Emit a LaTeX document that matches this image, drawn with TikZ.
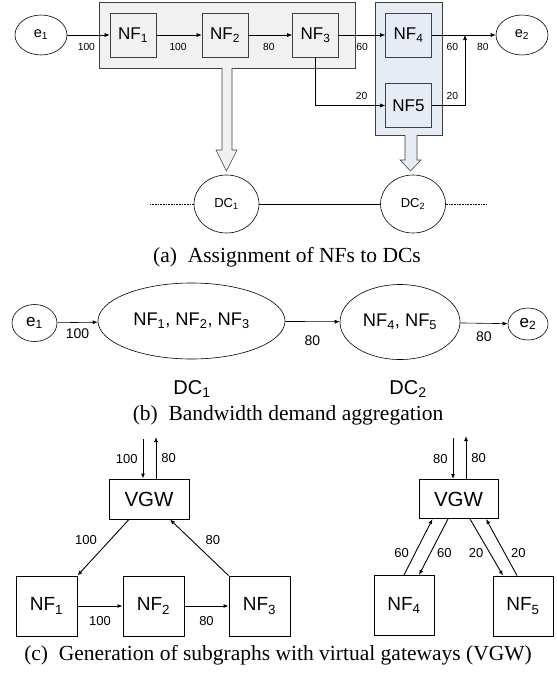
\documentclass[tikz,border=0pt]{standalone}
\usepackage{fontspec}
\setmainfont{Liberation Sans}
\newfontfamily\capfont{Liberation Serif}
\usetikzlibrary{arrows.meta, positioning, shapes.geometric}

\definecolor{grpgray}{HTML}{F1F1F1}
\definecolor{grpblue}{HTML}{E6EBF4}

\begin{document}
\begin{tikzpicture}[x=1pt, y=-1pt, >={Latex[length=5pt,width=4pt]}, line width=0.6pt,
	every node/.style={inner sep=0pt},
	grp/.style={draw=black!75},
	nfa/.style={draw=black!75, minimum width=46pt, minimum height=44pt, font=\fontsize{17}{19}\selectfont},
	enda/.style={ellipse, draw, minimum width=52pt, minimum height=40pt, font=\fontsize{14.5}{17}\selectfont},
	dca/.style={ellipse, draw, minimum width=65pt, minimum height=58pt, font=\fontsize{13}{15}\selectfont},
	lbla/.style={font=\fontsize{10.3}{12}\selectfont},
	aggr/.style={ellipse, draw, font=\fontsize{18.3}{20}\selectfont},
	endb/.style={ellipse, draw, font=\fontsize{17}{19}\selectfont},
	lblb/.style={font=\fontsize{14}{16}\selectfont},
	dcb/.style={font=\fontsize{20}{22}\selectfont},
	vgw/.style={draw, line width=0.9pt, minimum width=80pt, minimum height=40pt, font=\fontsize{20.5}{22}\selectfont},
	nfc/.style={draw, line width=0.9pt, minimum width=61pt, minimum height=60pt, font=\fontsize{19}{21}\selectfont},
	lblc/.style={font=\fontsize{13}{15}\selectfont},
	subcap/.style={font=\capfont\fontsize{21.5}{23}\selectfont}]
	\useasboundingbox (0,0) rectangle (557,673);

	% (a) NFs and the DCs they go to
	\node[grp, fill=grpgray, minimum width=256pt, minimum height=66pt] (grp1) at (227,35) {};
	\node[grp, fill=grpblue, minimum width=67pt, minimum height=133pt] (grp2) at (408.5,68.5) {};
	\node[enda] (e1) at (41,35) {e\textsubscript{1}};
	\node[nfa] (nf1) at (133,35) {NF\textsubscript{1}};
	\node[nfa] (nf2) at (225,35) {NF\textsubscript{2}};
	\node[nfa] (nf3) at (315.5,35) {NF\textsubscript{3}};
	\node[nfa] (nf4) at (408.5,35) {NF\textsubscript{4}};
	\node[nfa] (nf5) at (408.5,105.5) {NF5};
	\node[enda] (e2) at (522,35) {e\textsubscript{2}};
	\coordinate (jn) at (465,35);

	\path[->]
	(e1) edge node [lbla, pos=0.45, below=8pt] {100} (nf1)
	(nf1) edge node [lbla, pos=0.48, below=8pt] {100} (nf2)
	(nf2) edge node [lbla, pos=0.47, below=8pt] {80} (nf3)
	(nf3) edge node [lbla, pos=0.5, below=8pt] {60} (nf4)
	(nf4) edge node [lbla, pos=0.32, below=8pt] {60} node [lbla, pos=0.8, below=8pt] {80} (e2);
	\draw[->] (nf3.south) |- node [lbla, pos=0.83, above=6pt] {20} (nf5.west);
	\draw[->] (nf5.east) -| node [lbla, pos=0.31, above=6pt] {20} (jn);

	\draw[grp, fill=grpgray] (222,68) -- (222,150) -- (216,150) -- (226.5,171) -- (237,150) -- (232,150) -- (232,68);
	\draw[grp, fill=grpblue] (405,135) -- (405,160) -- (400,160) -- (410.5,171) -- (421,160) -- (417,160) -- (417,135);

	\node[dca] (dc1) at (226.5,204) {DC\textsubscript{1}};
	\node[dca] (dc2) at (413,204) {DC\textsubscript{2}};
	\coordinate (ll) at (150,204);
	\coordinate (rr) at (487,204);
	\draw (dc1) -- (dc2);
	\draw[densely dotted] (ll) -- (dc1);
	\draw[densely dotted] (dc2) -- (rr);
	\node[subcap] (capa) at (287,257) {(a)\enspace Assignment of NFs to DCs};

	% (b) one node per DC
	\node[endb, minimum width=45pt, minimum height=37pt] (e1b) at (34.5,323) {e\textsubscript{1}};
	\node[aggr, minimum width=187pt, minimum height=76pt] (dcb1) at (191.5,321) {NF\textsubscript{1}, NF\textsubscript{2}, NF\textsubscript{3}};
	\node[aggr, minimum width=120pt, minimum height=75pt] (dcb2) at (400,322) {NF\textsubscript{4}, NF\textsubscript{5}};
	\node[endb, minimum width=40pt, minimum height=32pt] (e2b) at (528,324) {e\textsubscript{2}};
	\path[->]
	(e1b) edge node [lblb, pos=0.5, below=6pt] {100} (dcb1)
	(dcb1) edge node [lblb, pos=0.5, below=14pt] {80} (dcb2)
	(dcb2) edge node [lblb, pos=0.5, below=8pt] {80} (e2b);
	\node[dcb] (lbdc1) at (192,389) {DC\textsubscript{1}};
	\node[dcb] (lbdc2) at (408,389) {DC\textsubscript{2}};
	\node[subcap] (capb) at (288,415) {(b)\enspace Bandwidth demand aggregation};

	% (c) subgraph with a virtual gateway per DC
	\begin{scope}[line width=0.9pt]
		\node[vgw] (vgw1) at (149,499) {VGW};
		\node[nfc] (nfc1) at (46.5,606) {NF\textsubscript{1}};
		\node[nfc] (nfc2) at (153.5,606) {NF\textsubscript{2}};
		\node[nfc] (nfc3) at (259.5,606) {NF\textsubscript{3}};
		\coordinate (in1) at (143,439);
		\coordinate (out1) at (156,437);
		\draw[->] (in1) -- node [lblc, left=5pt] {100} (in1 |- vgw1.north);
		\draw[->] (out1 |- vgw1.north) -- node [lblc, right=5pt] {80} (out1);
		\draw[->] ([xshift=-20pt]vgw1.south) -- node [lblc, pos=0.5, above left=2pt and 6pt] {100} (nfc1.north east);
		\draw[->] (nfc3.north west) -- node [lblc, pos=0.5, above right=2pt and 6pt] {80} ([xshift=21pt]vgw1.south);
		\path[->]
		(nfc1) edge node [lblc, pos=0.5, below=10pt] {100} (nfc2)
		(nfc2) edge node [lblc, pos=0.5, below=10pt] {80} (nfc3);

		\node[vgw, minimum width=79pt, minimum height=39pt] (vgw2) at (458.5,499) {VGW};
		\node[nfc, minimum width=60pt] (nfc4) at (404,605.5) {NF\textsubscript{4}};
		\node[nfc, minimum width=60pt] (nfc5) at (523,606) {NF\textsubscript{5}};
		\coordinate (in2) at (453,438);
		\coordinate (out2) at (466,436);
		\draw[->] (in2) -- node [lblc, left=5pt] {80} (in2 |- vgw2.north);
		\draw[->] (out2 |- vgw2.north) -- node [lblc, right=5pt] {80} (out2);
		\draw[->] (nfc4.north) -- node [lblc, pos=0.4, left=6pt] {60} ([xshift=-26pt]vgw2.south);
		\draw[->] ([xshift=-10.5pt]vgw2.south) -- node [lblc, pos=0.6, right=6pt] {60} ([xshift=15pt]nfc4.north);
		\draw[->] ([xshift=11.5pt]vgw2.south) -- node [lblc, pos=0.6, left=6pt] {20} ([xshift=-20pt]nfc5.north);
		\draw[->] ([xshift=-6pt]nfc5.north) -- node [lblc, pos=0.4, right=6pt] {20} ([xshift=27.5pt]vgw2.south);
	\end{scope}
	\node[subcap] (capc) at (278,655) {(c)\enspace Generation of subgraphs with virtual gateways (VGW)};
\end{tikzpicture}
\end{document}
